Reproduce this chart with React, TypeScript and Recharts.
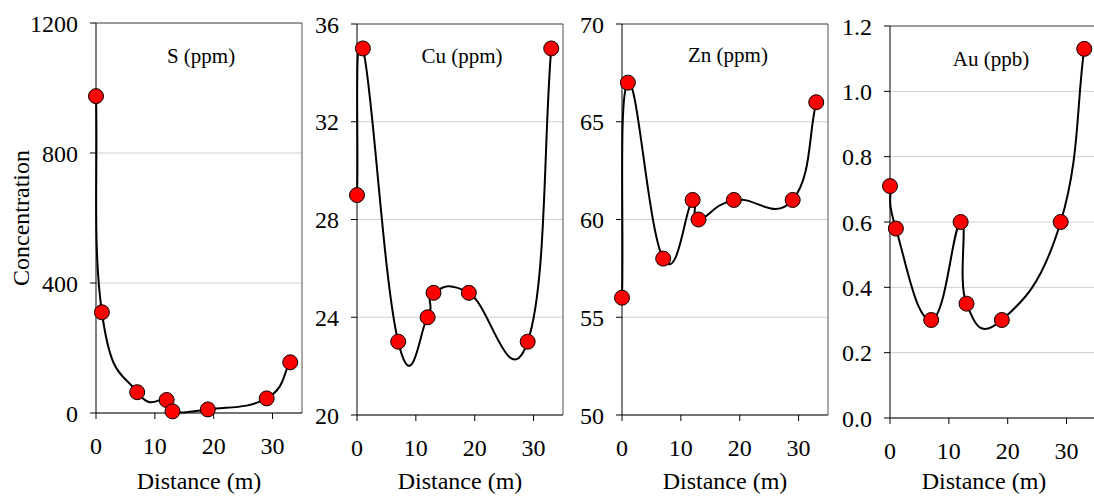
import React from 'react';
import { LineChart, Line, XAxis, YAxis, CartesianGrid, ReferenceLine } from 'recharts';

// ---- data ----
const distance = [0, 1, 7, 12, 13, 19, 29, 33];
const sulfurPpm = [975, 310, 64, 40, 5, 11, 45, 156];
const copperPpm = [29, 35, 23, 24, 25, 25, 23, 35];
const zincPpm = [56, 67, 58, 61, 60, 61, 61, 66];
const goldPpb = [0.71, 0.58, 0.3, 0.6, 0.35, 0.3, 0.6, 1.13];

const xTicks = [0, 10, 20, 30];
const xDomain = [0, 35];
const sTicks = [0, 400, 800, 1200];
const cuTicks = [20, 24, 28, 32, 36];
const znTicks = [50, 55, 60, 65, 70];
const auTicks = [0, 0.2, 0.4, 0.6, 0.8, 1.0, 1.2];
const titles = ['S (ppm)', 'Cu (ppm)', 'Zn (ppm)', 'Au (ppb)'];

const FONT = "'Liberation Serif', 'Times New Roman', Times, serif";

// Excel-like smoothed line: cardinal Bezier segments
function smoothCurve(context: any) {
  let pts: number[][] = [];
  return {
    areaStart() {},
    areaEnd() {},
    lineStart() {
      pts = [];
    },
    point(x: number, y: number) {
      pts.push([+x, +y]);
    },
    lineEnd() {
      const n = pts.length;
      if (!n) return;
      context.moveTo(pts[0][0], pts[0][1]);
      const K = 0.23;
      for (let i = 0; i < n - 1; i++) {
        const first = i === 0;
        const last = i + 2 > n - 1;
        const p0 = first ? pts[i] : pts[i - 1];
        const p1 = pts[i];
        const p2 = pts[i + 1];
        const p3 = last ? p2 : pts[i + 2];
        const f1 = first ? 1 / 3 : K;
        const f2 = last ? 1 / 3 : K;
        const c1x = p1[0] + (p2[0] - p0[0]) * f1;
        const c1y = p1[1] + (p2[1] - p0[1]) * f1;
        const c2x = p2[0] - (p3[0] - p1[0]) * f2;
        const c2y = p2[1] - (p3[1] - p1[1]) * f2;
        context.bezierCurveTo(c1x, c1y, c2x, c2y, p2[0], p2[1]);
      }
    },
  };
}

type PanelProps = {
  vals: number[];
  yTicks: number[];
  fmt?: (v: number) => string;
  chartLeft: number;
  padLeft: number;
  top: number;
  bottom: number;
  yLabel?: string;
  xLabelDx?: number;
};

const textStyle = { fontFamily: FONT, fontSize: 24 };

function Panel({ vals, yTicks, fmt, chartLeft, padLeft, top, bottom, yLabel, xLabelDx = 0 }: PanelProps) {
  const yAxisW = 60;
  const plotW = 206;
  const width = padLeft + yAxisW + plotW + 2;
  const data = distance.map((x, i) => ({ x, v: vals[i] }));
  const yMin = yTicks[0];
  const yMax = yTicks[yTicks.length - 1];
  const tickStyle = { fill: '#000', fontSize: 24, fontFamily: FONT, style: textStyle };
  return (
    <div style={{ position: 'absolute', left: chartLeft, top: 0, fontFamily: FONT, fontSize: 24 }}>
      <LineChart width={width} height={496} data={data} margin={{ top, right: 2, bottom: 0, left: padLeft }} style={textStyle}>
        <CartesianGrid vertical={false} stroke="#d0d0d0" strokeWidth={1} />
        <XAxis
          type="number"
          dataKey="x"
          domain={xDomain}
          ticks={xTicks}
          interval={0}
          tickSize={6}
          tickMargin={18}
          height={496 - bottom}
          axisLine={{ stroke: '#000', strokeWidth: 1 }}
          tickLine={{ stroke: '#000' }}
          tick={tickStyle}
          label={{ value: 'Distance (m)', position: 'insideBottom', offset: 7, fill: '#000', fontSize: 24, fontFamily: FONT, dx: xLabelDx, style: textStyle }}
        />
        <YAxis
          type="number"
          domain={[yMin, yMax]}
          ticks={yTicks}
          interval={0}
          width={yAxisW}
          tickSize={6}
          tickMargin={12}
          tickFormatter={fmt}
          axisLine={{ stroke: '#000', strokeWidth: 1 }}
          tickLine={{ stroke: '#000' }}
          tick={tickStyle}
          label={
            yLabel
              ? { value: yLabel, angle: -90, position: 'left', offset: 16, fill: '#000', fontSize: 24, fontFamily: FONT, style: { ...textStyle, textAnchor: 'middle' } }
              : undefined
          }
        />
        <ReferenceLine y={yMax} stroke="#505050" strokeWidth={1} />
        <ReferenceLine x={xDomain[1]} stroke="#505050" strokeWidth={1} />
        <Line
          type={smoothCurve as any}
          dataKey="v"
          stroke="#000"
          strokeWidth={2}
          dot={{ r: 7.5, fill: '#ff0000', stroke: '#000', strokeWidth: 1 }}
          activeDot={false}
          isAnimationActive={false}
        />
      </LineChart>
    </div>
  );
}

const titlePos = [
  { x: 201, y: 63 },
  { x: 462, y: 63 },
  { x: 728, y: 62 },
  { x: 991, y: 66 },
];

export default function App() {
  return (
    <div style={{ position: 'absolute', left: 0, top: 0, width: 1094, height: 496, overflow: 'hidden', background: '#fff', fontFamily: FONT }}>
      <Panel vals={sulfurPpm} yTicks={sTicks} chartLeft={0} padLeft={36} top={23} bottom={413} yLabel="Concentration" />
      <Panel vals={copperPpm} yTicks={cuTicks} chartLeft={297} padLeft={0} top={24} bottom={415} />
      <Panel vals={zincPpm} yTicks={znTicks} chartLeft={562} padLeft={0} top={24} bottom={415} />
      <Panel vals={goldPpb} yTicks={auTicks} fmt={(v: number) => v.toFixed(1)} chartLeft={830} padLeft={0} top={26} bottom={418} xLabelDx={-9} />
      <svg width={1094} height={496} style={{ position: 'absolute', left: 0, top: 0, pointerEvents: 'none' }}>
        {titles.map((t, i) => (
          <text key={t} x={titlePos[i].x} y={titlePos[i].y} textAnchor="middle" fontFamily={FONT} fontSize={21} fill="#000">
            {t}
          </text>
        ))}
      </svg>
    </div>
  );
}
